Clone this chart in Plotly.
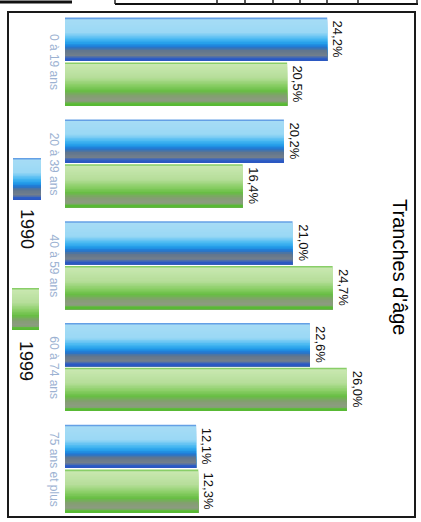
import plotly.graph_objects as go

# ---- data ----
categories = ["0 à 19 ans", "20 à 39 ans", "40 à 59 ans", "60 à 74 ans", "75 ans et plus"]
series_names = ["1990", "1999"]
values_1990 = [24.2, 20.2, 21.0, 22.6, 12.1]
values_1999 = [20.5, 16.4, 24.7, 26.0, 12.3]
title_text = "Tranches d'âge"

W, H = 421, 522
FONT = "Liberation Sans, Arial, sans-serif"

# gradient key colours across the bar thickness (top -> bottom)
blue_keys = [
    (0.00, "#3f7fdc"),
    (0.05, "#a6dcf5"),
    (0.35, "#9ad8f5"),
    (0.50, "#47b8f2"),
    (0.60, "#229ce9"),
    (0.68, "#1f74d2"),
    (0.76, "#60758e"),
    (0.88, "#737f8c"),
    (0.94, "#2f5fc6"),
    (1.00, "#2a55c0"),
]
green_keys = [
    (0.00, "#66c040"),
    (0.05, "#c8e7b0"),
    (0.35, "#b6de9a"),
    (0.52, "#8ccf68"),
    (0.66, "#68bd44"),
    (0.78, "#849e72"),
    (0.90, "#8e9a84"),
    (0.95, "#5cbc38"),
    (1.00, "#56b832"),
]

N_STRIPES = 28
BAR_W = 0.425
offsets = {"1990": -0.435, "1999": 0.005}


def hex2rgb(h):
    h = h.lstrip("#")
    return tuple(int(h[i:i + 2], 16) for i in (0, 2, 4))


def colour_at(keys, f):
    for (f0, c0), (f1, c1) in zip(keys[:-1], keys[1:]):
        if f0 <= f <= f1:
            t = 0 if f1 == f0 else (f - f0) / (f1 - f0)
            a, b = hex2rgb(c0), hex2rgb(c1)
            return "rgb(%d,%d,%d)" % tuple(round(a[i] + (b[i] - a[i]) * t) for i in range(3))
    return keys[-1][1]


def stripes(keys):
    return [(i / N_STRIPES, colour_at(keys, (i + 0.5) / N_STRIPES)) for i in range(N_STRIPES)]


blue_stripes = stripes(blue_keys)
green_stripes = stripes(green_keys)


def fmt(v):
    return f"{v:.1f}".replace(".", ",") + "%"


fig = go.Figure()
for name, vals, strp in [("1990", values_1990, blue_stripes), ("1999", values_1999, green_stripes)]:
    base = offsets[name]
    for f0, col in strp:
        fig.add_trace(go.Bar(
            x=vals, y=categories, orientation="h",
            offset=base + f0 * BAR_W, width=(1 - f0) * BAR_W,
            marker=dict(color=col, line=dict(width=0)),
            showlegend=False, hoverinfo="skip", name=name,
        ))
    fig.add_trace(go.Bar(
        x=vals, y=categories, orientation="h",
        offset=base, width=BAR_W,
        marker=dict(color="rgba(0,0,0,0)", line=dict(width=0)),
        text=[fmt(v) for v in vals], textposition="outside", textangle=90,
        constraintext="none", cliponaxis=False,
        textfont=dict(family=FONT, size=13, color="#111111"),
        showlegend=False, name=name,
    ))

shapes = []


def px(x):
    return x / W


def py(y):
    return 1 - y / H


# frame
shapes.append(dict(type="rect", xref="paper", yref="paper",
                   x0=px(8), x1=px(415), y0=py(517), y1=py(12),
                   line=dict(color="#1a1a1a", width=2), fillcolor="rgba(0,0,0,0)"))
# scan artifacts at the top edge (remains of a table above)
shapes.append(dict(type="line", xref="paper", yref="paper", x0=px(0), x1=px(72), y0=py(2), y1=py(2),
                   line=dict(color="#111", width=3)))
shapes.append(dict(type="line", xref="paper", yref="paper", x0=px(115), x1=px(418), y0=py(4), y1=py(4),
                   line=dict(color="#111", width=2)))
for xx in [115, 217, 245, 273, 300, 327, 358, 417]:
    shapes.append(dict(type="line", xref="paper", yref="paper", x0=px(xx), x1=px(xx), y0=py(0), y1=py(4),
                       line=dict(color="#222", width=1.5)))


# legend swatches
def swatch(x0, x1, y0, y1, strp):
    h = y1 - y0
    for f0, col in strp:
        shapes.append(dict(type="rect", xref="paper", yref="paper",
                           x0=px(x0), x1=px(x1), y0=py(y1), y1=py(y0 + f0 * h),
                           line=dict(width=0), fillcolor=col))


swatch(13, 41, 158, 200, blue_stripes)
swatch(12, 39, 288, 330, green_stripes)

annotations = [
    dict(text=series_names[0], xref="paper", yref="paper", x=px(27), y=py(229),
         xanchor="center", yanchor="middle",
         showarrow=False, textangle=90, font=dict(family=FONT, size=18, color="#111")),
    dict(text=series_names[1], xref="paper", yref="paper", x=px(26), y=py(361),
         xanchor="center", yanchor="middle",
         showarrow=False, textangle=90, font=dict(family=FONT, size=18, color="#111")),
    dict(text=title_text, xref="paper", yref="paper", x=px(400), y=py(267),
         xanchor="center", yanchor="middle",
         showarrow=False, textangle=90, font=dict(family=FONT, size=20, color="#000")),
]
for cat in categories:
    annotations.append(dict(text=cat, xref="paper", yref="y", x=px(54), y=cat,
                            xanchor="center", yanchor="middle", showarrow=False, textangle=90,
                            font=dict(family=FONT, size=12, color="#9cb2d2")))

fig.update_layout(
    width=W, height=H,
    margin=dict(l=0, r=0, t=0, b=0),
    paper_bgcolor="white", plot_bgcolor="rgba(0,0,0,0)",
    barmode="overlay",
    showlegend=False,
    xaxis=dict(domain=[65 / W, 415 / W], range=[0, 32.3], visible=False, fixedrange=True,
               automargin=False),
    yaxis=dict(domain=[2 / H, 511 / H], type="category", range=[4.5, -0.5],
               showgrid=False, zeroline=False, showline=False, ticks="",
               showticklabels=False, automargin=False),
    shapes=shapes,
    annotations=annotations,
    font=dict(family=FONT),
)

fig.write_html("out.html", config={"displayModeBar": False},
               post_script="document.body.style.margin='0';document.body.style.overflow='hidden';")
